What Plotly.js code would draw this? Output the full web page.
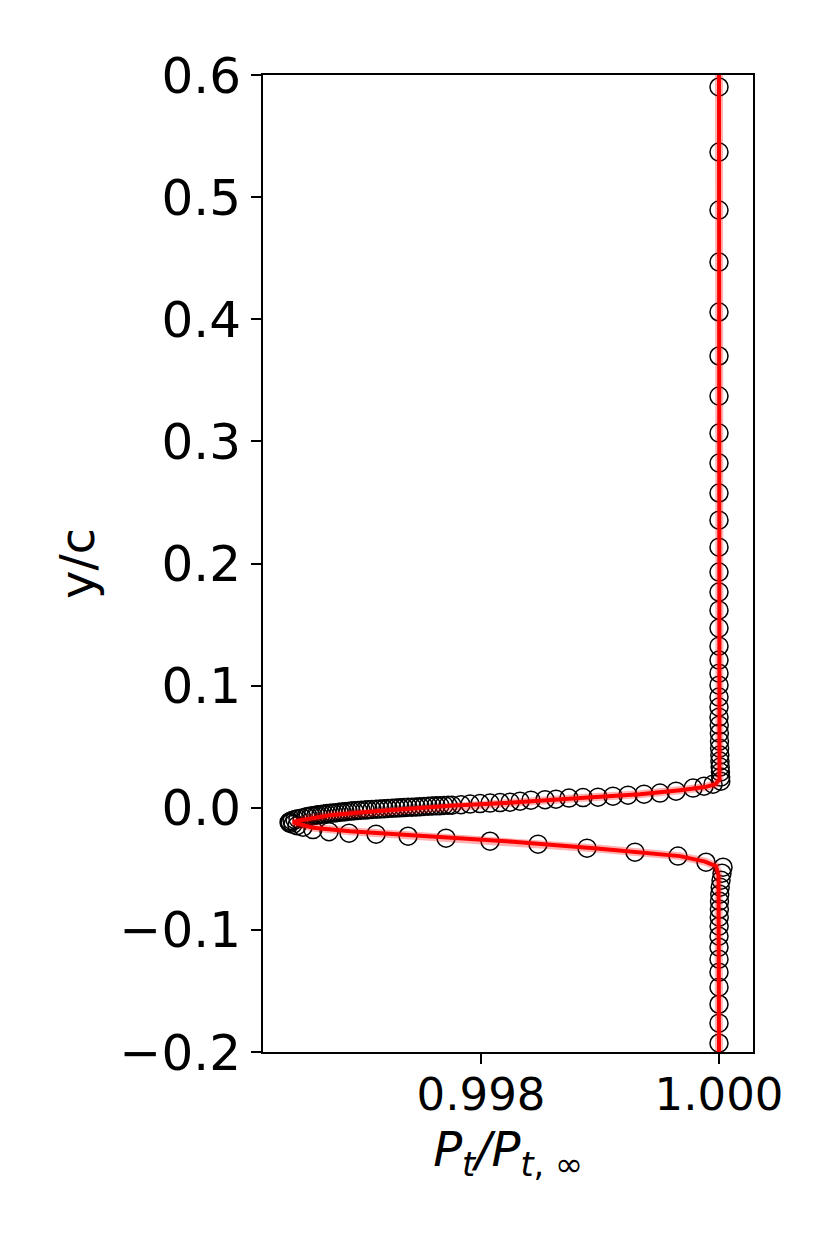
<!DOCTYPE html>
<html>
<head>
<meta charset="utf-8">
<script src="https://cdn.plot.ly/plotly-3.0.1.min.js"></script>
<style>
  html, body { margin: 0; padding: 0; background: white; }
  #wake-plot { width: 830px; height: 1246px; }
</style>
</head>
<body>
<div id="wake-plot"></div>
<script>
// measured wake profile (circles), read top to bottom
const SAMPLE_Y = [
  0.5902, 0.5369, 0.4894, 0.4468, 0.4059, 0.3699, 0.3371, 0.3068, 0.2822, 0.2577,
  0.2355, 0.2134, 0.1930, 0.1766, 0.1618, 0.1471, 0.1323, 0.1209, 0.1102, 0.1004,
  0.0906, 0.0824, 0.0742, 0.0676, 0.0611, 0.0545, 0.0488, 0.0431, 0.0382, 0.0333,
  0.0292, 0.0251, 0.0218,
  0.0193, 0.0177, 0.0161, 0.0136, 0.0120, 0.0111, 0.0103, 0.0095, 0.0087, 0.0083,
  0.0079, 0.0070, 0.0066, 0.0062, 0.0054, 0.0046, 0.0042, 0.0038, 0.0034, 0.0030,
  0.0025, 0.0021, 0.0019, 0.0016, 0.0013, 0.0009, 0.0005, 0.0002, -0.0002, -0.0006,
  -0.0010, -0.0014, -0.0018, -0.0022, -0.0027, -0.0032, -0.0037, -0.0043, -0.0048, -0.0055,
  -0.0061, -0.0068, -0.0075, -0.0083, -0.0090, -0.0097, -0.0105, -0.0112, -0.0120, -0.0128,
  -0.0137, -0.0147, -0.0159, -0.0179, -0.0196, -0.0208, -0.0216, -0.0233, -0.0249, -0.0274,
  -0.0298, -0.0331, -0.0364, -0.0396, -0.0446, -0.0487,
  -0.0536, -0.0593, -0.0650, -0.0708, -0.0765, -0.0831, -0.0896, -0.0970, -0.1052, -0.1142,
  -0.1240, -0.1346, -0.1469, -0.1609, -0.1764, -0.1928,
];
const SAMPLE_PT = [
  1.0, 1.0, 1.0, 1.0, 1.0, 1.0, 1.0, 1.0, 1.0, 1.0,
  1.0, 1.0, 1.0, 1.0, 1.0, 1.0, 1.0, 1.0, 1.0, 1.0,
  1.0, 1.0, 1.0, 1.000002, 1.000003, 1.000004, 1.000005, 1.000007, 1.000008, 1.00001,
  1.000012, 1.000014, 1.000015,
  0.99995, 0.999874, 0.999782, 0.999639, 0.999504, 0.99937, 0.999235, 0.999109, 0.998983, 0.998857,
  0.998739, 0.99863, 0.998538, 0.99842, 0.998328, 0.998244, 0.99816, 0.998076, 0.997992, 0.997908,
  0.997832, 0.997756, 0.997689, 0.997622, 0.997555, 0.997487, 0.99742, 0.997353, 0.997286, 0.997218,
  0.997151, 0.997084, 0.997025, 0.996966, 0.996908, 0.996857, 0.996807, 0.996756, 0.996706, 0.996655,
  0.996613, 0.996571, 0.996529, 0.996496, 0.996462, 0.996437, 0.996412, 0.996395, 0.996387, 0.996395,
  0.99642, 0.996454, 0.996504, 0.996588, 0.996723, 0.996891, 0.997118, 0.997387, 0.997706, 0.998076,
  0.998479, 0.998891, 0.999294, 0.999655, 0.999891, 1.000034,
  1.000025, 1.000017, 1.00001, 1.000006, 1.000004, 1.000003, 1.000002, 1.000001, 1.0, 1.0,
  1.0, 1.0, 1.0, 1.0, 1.0, 1.0,
];

// extra circles in the dense band just above the wake centre
const BAND_Y = [
  0.0020, 0.0017, 0.0015, 0.0011, 0.0007, 0.0004, 0.0000, -0.0004, -0.0008, -0.0012,
  -0.0016, -0.0020, -0.0025, -0.0030, -0.0035, -0.0040, -0.0046, -0.0052, -0.0058, -0.0065,
  -0.0071,
];
const BAND_PT = [
  0.997723, 0.997655, 0.997588, 0.997521, 0.997454, 0.997387, 0.997319, 0.997252, 0.997185, 0.997118,
  0.99705, 0.996992, 0.996933, 0.996882, 0.996832, 0.996782, 0.996731, 0.996681, 0.99663, 0.996588,
  0.996546,
];

// computed profile (red line)
const MODEL_Y = [
  0.6, 0.0881, 0.0308, 0.0234, 0.0193, 0.0169, 0.0144, 0.0111, 0.0079, 0.0042,
  0.0017, -0.0003, -0.0036, -0.0061, -0.0085, -0.0106, -0.0118, -0.0130, -0.0163, -0.0192,
  -0.0229, -0.0278, -0.0335, -0.0396, -0.0441, -0.0478, -0.0552, -0.2002,
];
const MODEL_PT = [
  1.0, 1.0, 1.000007, 1.000004, 0.99997, 0.999882, 0.999672, 0.999336, 0.998832, 0.998269,
  0.997739, 0.997429, 0.997008, 0.996731, 0.996563, 0.996462, 0.99642, 0.996454, 0.996588, 0.996899,
  0.997487, 0.998269, 0.999, 0.999672, 0.999882, 0.999975, 0.999996, 1.0,
];

const X_TICKS = [0.998, 1.0];
const X_TICK_TEXT = ['0.998', '1.000'];

const FONT = '"DejaVu Sans", "Liberation Sans", sans-serif';

function axisStyle() {
  return {
    showline: true,
    mirror: true,
    linecolor: '#000000',
    linewidth: 2,
    ticks: 'outside',
    ticklen: 10,
    tickwidth: 2,
    tickcolor: '#000000',
    showgrid: false,
    zeroline: false,
  };
}

function renderWake() {
  const traces = [
    {
      x: SAMPLE_PT.concat(BAND_PT),
      y: SAMPLE_Y.concat(BAND_Y),
      mode: 'markers',
      type: 'scatter',
      name: 'measured',
      marker: { size: 18, color: 'rgba(0,0,0,0)', line: { width: 1.5, color: '#000000' } },
    },
    {
      x: MODEL_PT,
      y: MODEL_Y,
      mode: 'lines',
      type: 'scatter',
      name: 'halo',
      line: { color: 'rgba(255,0,0,0.3)', width: 8 },
      hoverinfo: 'skip',
    },
    {
      x: MODEL_PT,
      y: MODEL_Y,
      mode: 'lines',
      type: 'scatter',
      name: 'computed',
      line: { color: '#ff0000', width: 4 },
    },
  ];

  const layout = {
    width: 830,
    height: 1246,
    showlegend: false,
    paper_bgcolor: 'white',
    plot_bgcolor: 'white',
    margin: { l: 263, r: 77, t: 75, b: 194 },
    font: { family: FONT, color: '#000000' },
    xaxis: {
      ...axisStyle(),
      range: [0.996168, 1.0002857],
      tickmode: 'array',
      tickvals: X_TICKS,
      ticktext: X_TICK_TEXT,
      tickfont: { size: 45, family: FONT },
      ticklabelstandoff: -8,
      title: {
        text: '<i>P</i><sub><i>t</i></sub><i>/P</i><sub><i>t</i>, ∞</sub>',
        font: { size: 48, family: FONT },
        standoff: 6,
      },
    },
    yaxis: {
      ...axisStyle(),
      range: [-0.2, 0.6],
      dtick: 0.1,
      tick0: 0,
      tickformat: '.1f',
      tickfont: { size: 50, family: FONT },
      title: { text: 'y/c', font: { size: 48, family: FONT }, standoff: 10 },
    },
  };

  Plotly.newPlot('wake-plot', traces, layout, { staticPlot: true, displayModeBar: false });
}

renderWake();
</script>
</body>
</html>
